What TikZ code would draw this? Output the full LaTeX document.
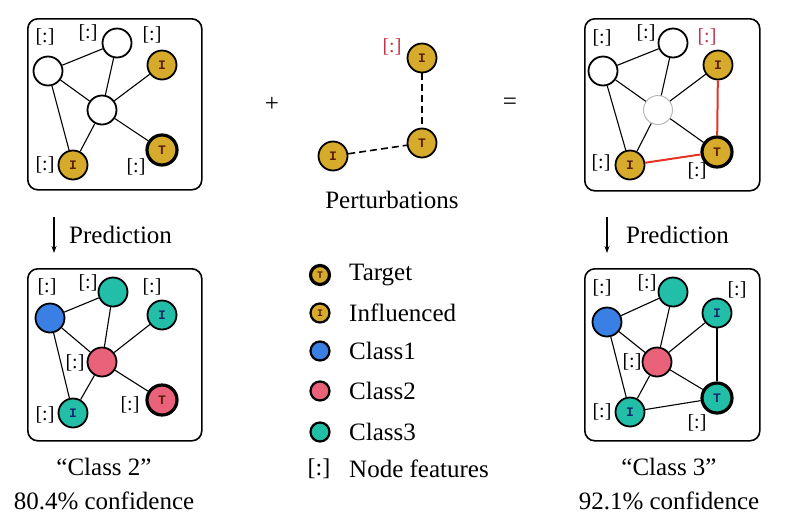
\documentclass[tikz,border=0pt]{standalone}
\usepackage{fontspec}
\setmainfont{Liberation Serif}
\newfontfamily\letterfont{Liberation Mono}
\usetikzlibrary{arrows.meta}
\definecolor{gold}{RGB}{214,170,42}
\definecolor{cblue}{RGB}{58,128,228}
\definecolor{cpink}{RGB}{234,98,122}
\definecolor{cteal}{RGB}{34,190,168}
\definecolor{ered}{RGB}{228,52,36}
\definecolor{lred}{RGB}{196,52,72}
\definecolor{goldtxt}{RGB}{90,30,10}
\definecolor{tealtxt}{RGB}{20,40,110}
\begin{document}
\begin{tikzpicture}[x=1pt,y=-1pt,
  gn/.style={circle, draw=black, line width=1.8pt, minimum size=29pt, inner sep=0pt, fill=white,
    font=\letterfont\bfseries\fontsize{13}{13}\selectfont},
  tn/.style={gn, line width=3.2pt, minimum size=30pt},
  goldn/.style={fill=gold, text=goldtxt},
  bluen/.style={fill=cblue},
  pinkn/.style={fill=cpink, text=goldtxt},
  tealn/.style={fill=cteal, text=tealtxt},
  feat/.style={font=\fontsize{20}{20}\selectfont, inner sep=0pt},
  edge/.style={line width=1.1pt},
  rededge/.style={line width=2pt, draw=ered},
  dashedge/.style={line width=1.6pt, dashed, dash pattern=on 7pt off 4pt},
  panel/.style={draw, line width=1.6pt, rounded corners=10pt},
  txt/.style={font=\fontsize{25}{30}\selectfont, inner sep=0pt},
  leg/.style={circle, draw=black, line width=2.2pt, minimum size=19pt, inner sep=0pt,
    font=\letterfont\bfseries\fontsize{10}{10}\selectfont},
  predarrow/.style={line width=1.2pt, -{Stealth[length=7pt,width=5pt]}},
]
\useasboundingbox (0,0) rectangle (800,531);

% ---------- top-left panel ----------
\node[panel, minimum width=174pt, minimum height=171pt, anchor=north west] (p1) at (27,18) {};
\node[gn] (a1) at (48,71) {};
\node[gn] (b1) at (117,43) {};
\node[gn, goldn] (i1a) at (162,65) {I};
\node[gn] (c1) at (102,110) {};
\node[tn, goldn] (t1) at (162,150) {T};
\node[gn, goldn] (i1b) at (73,165) {I};
\draw[edge] (a1) -- (b1);
\draw[edge] (a1) -- (c1);
\draw[edge] (a1) -- (i1b);
\draw[edge] (b1) -- (c1);
\draw[edge] (c1) -- (i1a);
\draw[edge] (c1) -- (t1);
\draw[edge] (c1) -- (i1b);
\node[feat] (f1a) at (45,37) {[:]};
\node[feat] (f1b) at (88,33) {[:]};
\node[feat] (f1c) at (152,35) {[:]};
\node[feat] (f1d) at (45,165) {[:]};
\node[feat] (f1e) at (136,167) {[:]};

% ---------- perturbations ----------
\node[gn, goldn] (pi1) at (422,58) {I};
\node[gn, goldn] (pt) at (422,143) {T};
\node[gn, goldn] (pi2) at (333,156) {I};
\draw[dashedge] (pi1) -- (pt);
\draw[dashedge] (pi2) -- (pt);
\node[feat, text=lred] (pf) at (392,47) {[:]};
\node[txt] (pert) at (392,200) {Perturbations};

\node[txt] (plus) at (272,104) {+};
\node[txt] (eq) at (510,104) {=};

% ---------- top-right panel ----------
\node[panel, minimum width=175pt, minimum height=172pt, anchor=north west] (p2) at (584,18) {};
\node[gn] (a2) at (603,71) {};
\node[gn] (b2) at (673,43) {};
\node[gn, goldn] (i2a) at (718,65) {I};
\node[gn, draw=gray!55, line width=1pt] (c2) at (658,110) {};
\node[tn, goldn] (t2) at (717,152) {T};
\node[gn, goldn] (i2b) at (630,165) {I};
\draw[edge] (a2) -- (b2);
\draw[edge] (a2) -- (c2);
\draw[edge] (a2) -- (i2b);
\draw[edge] (b2) -- (c2);
\draw[edge] (c2) -- (i2a);
\draw[edge] (c2) -- (t2);
\draw[edge] (c2) -- (i2b);
\draw[rededge] (i2a) -- (t2);
\draw[rededge] (i2b) -- (t2);
\node[feat] (f2a) at (602,38) {[:]};
\node[feat] (f2b) at (646,33) {[:]};
\node[feat, text=lred] (f2c) at (707,37) {[:]};
\node[feat] (f2d) at (601,163) {[:]};
\node[feat] (f2e) at (697,171) {[:]};

% ---------- prediction arrows ----------
\coordinate (pa1s) at (54,217);
\coordinate (pa1e) at (54,253);
\draw[predarrow] (pa1s) -- (pa1e);
\node[txt, anchor=base west] (pr1) at (69,243) {Prediction};
\coordinate (pa2s) at (607,217);
\coordinate (pa2e) at (607,253);
\draw[predarrow] (pa2s) -- (pa2e);
\node[txt, anchor=base west] (pr2) at (626,243) {Prediction};

% ---------- bottom-left panel ----------
\node[panel, minimum width=174pt, minimum height=172pt, anchor=north west] (p3) at (27,268) {};
\node[gn, bluen] (a3) at (50,318) {};
\node[gn, tealn] (b3) at (113,292) {};
\node[gn, tealn] (i3a) at (162,315) {I};
\node[gn, pinkn] (c3) at (102,362) {};
\node[tn, pinkn] (t3) at (162,400) {T};
\node[gn, tealn] (i3b) at (73,413) {I};
\draw[edge] (a3) -- (b3);
\draw[edge] (a3) -- (c3);
\draw[edge] (a3) -- (i3b);
\draw[edge] (b3) -- (c3);
\draw[edge] (c3) -- (i3a);
\draw[edge] (c3) -- (t3);
\draw[edge] (c3) -- (i3b);
\node[feat] (f3a) at (47,287) {[:]};
\node[feat] (f3b) at (88,283) {[:]};
\node[feat] (f3c) at (152,287) {[:]};
\node[feat] (f3d) at (75,363) {[:]};
\node[feat] (f3e) at (45,415) {[:]};
\node[feat] (f3f) at (130,405) {[:]};

% ---------- bottom-right panel ----------
\node[panel, minimum width=175pt, minimum height=172pt, anchor=north west] (p4) at (584,268) {};
\node[gn, bluen] (a4) at (607,322) {};
\node[gn, tealn] (b4) at (673,292) {};
\node[gn, tealn] (i4a) at (717,313) {I};
\node[gn, pinkn] (c4) at (657,362) {};
\node[tn, tealn] (t4) at (717,398) {T};
\node[gn, tealn] (i4b) at (630,412) {I};
\draw[edge] (a4) -- (b4);
\draw[edge] (a4) -- (c4);
\draw[edge] (a4) -- (i4b);
\draw[edge] (b4) -- (c4);
\draw[edge] (c4) -- (i4a);
\draw[edge] (c4) -- (t4);
\draw[edge] (c4) -- (i4b);
\draw[edge] (i4a) -- (t4);
\draw[edge] (i4b) -- (t4);
\node[feat] (f4a) at (602,288) {[:]};
\node[feat] (f4b) at (647,283) {[:]};
\node[feat] (f4c) at (737,290) {[:]};
\node[feat] (f4d) at (632,362) {[:]};
\node[feat] (f4e) at (602,412) {[:]};
\node[feat] (f4f) at (697,423) {[:]};

% ---------- legend ----------
\node[leg, goldn, line width=3.2pt] (lt) at (320,275) {T};
\node[txt, anchor=west] (ltt) at (349,275) {Target};
\node[leg, goldn] (li) at (320,313) {I};
\node[txt, anchor=west] (lit) at (349,313) {Influenced};
\node[leg, bluen] (l1) at (320,351) {};
\node[txt, anchor=west] (l1t) at (349,351) {Class1};
\node[leg, pinkn] (l2) at (320,391) {};
\node[txt, anchor=west] (l2t) at (349,391) {Class2};
\node[leg, tealn] (l3) at (320,432) {};
\node[txt, anchor=west] (l3t) at (349,432) {Class3};
\node[feat, font=\fontsize{24}{24}\selectfont] (lf) at (319,469) {[:]};
\node[txt, anchor=west] (lft) at (349,469) {Node features};

% ---------- captions ----------
\node[txt] (cap1) at (104,467) {“Class 2”};
\node[txt] (conf1) at (104,501) {80.4\% confidence};
\node[txt] (cap2) at (669,467) {“Class 3”};
\node[txt] (conf2) at (669,501) {92.1\% confidence};
\end{tikzpicture}
\end{document}
